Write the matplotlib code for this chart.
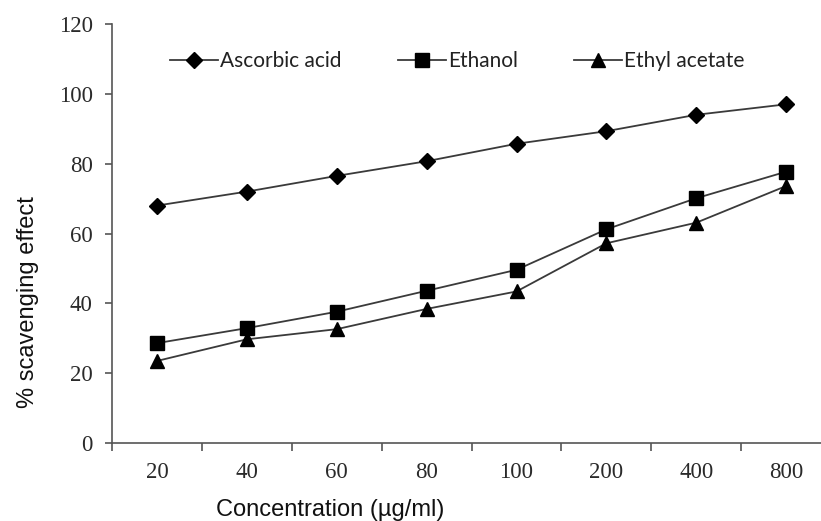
import matplotlib
matplotlib.use("Agg")
import matplotlib.pyplot as plt
from matplotlib.ticker import FixedLocator

categories = ["20", "40", "60", "80", "100", "200", "400", "800"]
ascorbic = [68, 72, 76.5, 80.7, 85.7, 89.3, 94, 97]
ethanol = [28.6, 32.9, 37.6, 43.6, 49.6, 61.2, 70.1, 77.7]
ethyl_acetate = [23.5, 29.7, 32.6, 38.4, 43.4, 57.2, 63.1, 73.6]
yticks = [0, 20, 40, 60, 80, 100, 120]

W, H = 821, 521
fig = plt.figure(figsize=(W / 100, H / 100), dpi=100)
ax = fig.add_axes([112.07 / W, 1 - 443 / H, 719 / W, 419 / H])

x = list(range(len(categories)))
lc = "#3a3a3a"
ax.plot(x, ascorbic, color=lc, lw=1.3, marker="D", ms=8.5, mfc="black", mec="black", label="Ascorbic acid")
ax.plot(x, ethanol, color=lc, lw=1.3, marker="s", ms=10, mfc="black", mec="black", label="Ethanol")
ax.plot(x, ethyl_acetate, color=lc, lw=1.3, marker="^", ms=10, mfc="black", mec="black", label="Ethyl acetate")

ax.set_xlim(-0.5, 7.5)
ax.set_ylim(0, 120)
ax.set_yticks(yticks)
ax.set_xticks(x)
ax.set_xticklabels(categories)
ax.xaxis.set_minor_locator(FixedLocator([i + 0.5 for i in range(-1, 8)]))

for s in ["top", "right"]:
    ax.spines[s].set_visible(False)
for s in ["left", "bottom"]:
    ax.spines[s].set_color("#555555")
    ax.spines[s].set_linewidth(1.2)

serif = "Liberation Serif"
ax.tick_params(axis="y", which="major", length=5, width=1.2, color="#555555", pad=9,
               labelsize=16.5, labelcolor="#2a2a2a")
ax.tick_params(axis="x", which="major", length=0, pad=14, labelsize=16.5, labelcolor="#2a2a2a")
ax.tick_params(axis="x", which="minor", length=6, width=1.2, color="#555555")
for lab in ax.get_xticklabels() + ax.get_yticklabels():
    lab.set_fontfamily(serif)

fig.text(28 / W, 1 - 302 / H, "% scavenging effect", rotation=90, ha="center", va="center",
         fontsize=17, family="Liberation Sans", color="#111111")
fig.text(330 / W, 1 - 510 / H, "Concentration (µg/ml)", ha="center", va="center",
         fontsize=17, family="Liberation Sans", color="#111111")

leg = ax.legend(loc="center left", bbox_to_anchor=(170 / W, 1 - 61 / H), bbox_transform=fig.transFigure,
                ncol=3, frameon=False, prop={"family": "Lato", "size": 15},
                handlelength=2.3, handletextpad=0.1, columnspacing=2.7, borderpad=0, borderaxespad=0)
for t in leg.get_texts():
    t.set_color("#222222")

fig.savefig("out.png", dpi=100)
